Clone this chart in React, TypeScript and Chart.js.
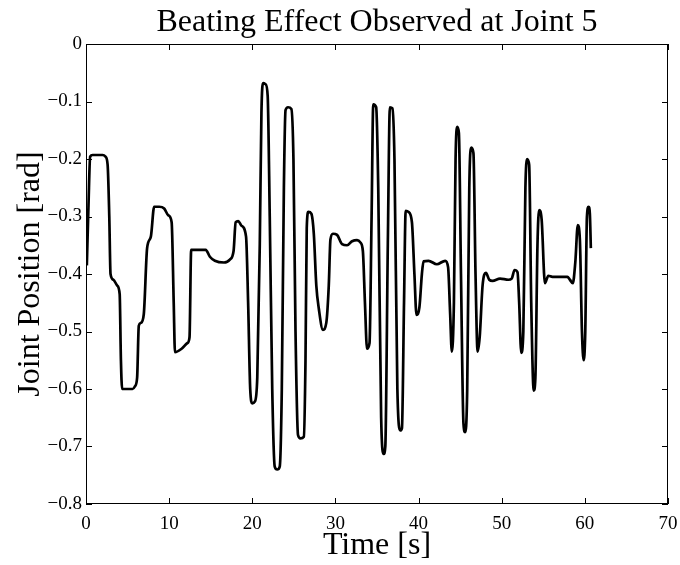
import React, { useEffect, useRef } from 'react';
import { Chart, registerables } from 'chart.js';

Chart.register(...registerables);

const titleText = 'Beating Effect Observed at Joint 5';
const xLabel = 'Time [s]';
const yLabel = 'Joint Position [rad]';

const xTickValues = [0, 10, 20, 30, 40, 50, 60, 70];
const yTickValues = [0, -0.1, -0.2, -0.3, -0.4, -0.5, -0.6, -0.7, -0.8];

const timeS = [
  0.1, 0.3, 0.5, 0.8, 2.0, 2.35, 2.6, 2.8, 2.95, 3.3,
  3.75, 4.05, 4.2, 4.35, 5.6, 5.9, 6.15, 6.35, 6.6, 6.95,
  7.35, 7.8, 8.2, 8.8, 9.4, 9.9, 10.3, 10.55, 10.7, 11.5,
  12.2, 12.45, 12.65, 14.4, 14.9, 15.5, 16.6, 17.3, 17.75, 18.0,
  18.3, 18.7, 19.25,
  19.5, 19.75, 20.0, 20.3, 20.6, 20.9, 21.1, 21.3, 21.6, 21.85,
  22.1, 22.4, 22.7, 23.0, 23.3, 23.55, 23.8, 24.0, 24.3, 24.7,
  24.95, 25.2, 25.5, 25.8, 26.2, 26.4, 26.55, 26.75, 27.1, 27.4,
  27.7, 28.0, 28.5, 28.9, 29.2, 29.4, 29.7, 30.2, 30.8, 31.4,
  32.0, 32.6, 33.0, 33.3, 33.55, 33.8, 34.1, 34.35, 34.55, 34.9,
  35.15, 35.5, 35.8, 36.0, 36.3, 36.55, 36.85, 37.1, 37.45, 37.8,
  38.0, 38.25, 38.45, 38.8, 39.2, 39.5, 39.75, 40.1, 40.4, 40.6,
  41.2, 42.2, 43.2, 43.55, 43.8, 44.0, 44.25, 44.45, 44.65, 44.85,
  45.1, 45.4, 45.6, 45.85, 46.1, 46.35, 46.6, 46.85, 47.1, 47.35,
  47.7, 48.1, 48.5, 48.9, 49.8, 50.8, 51.2, 51.55, 51.9, 52.1,
  52.35, 52.6, 52.85, 53.05, 53.3, 53.55, 53.85, 54.05, 54.3, 54.5,
  54.8, 55.2, 55.6, 56.1, 57.4, 57.9, 58.2, 58.55, 58.85, 59.15,
  59.4, 59.65, 59.85, 60.05, 60.25, 60.45, 60.6, 60.72,
];

const jointPos = [
  -0.385, -0.28, -0.196, -0.193, -0.193, -0.196, -0.21, -0.3, -0.4, -0.41,
  -0.42, -0.435, -0.55, -0.6, -0.6, -0.595, -0.58, -0.49, -0.485, -0.47,
  -0.355, -0.335, -0.283, -0.283, -0.286, -0.298, -0.31, -0.45, -0.536, -0.53,
  -0.52, -0.51, -0.358, -0.358, -0.37, -0.377, -0.38, -0.375, -0.36, -0.31,
  -0.308, -0.316, -0.335,
  -0.45, -0.6, -0.625, -0.622, -0.58, -0.35, -0.12, -0.068, -0.07, -0.09,
  -0.3, -0.6, -0.735, -0.74, -0.735, -0.6, -0.25, -0.115, -0.11, -0.113,
  -0.2, -0.5, -0.68, -0.686, -0.683, -0.55, -0.32, -0.292, -0.295, -0.33,
  -0.42, -0.46, -0.497, -0.485, -0.42, -0.34, -0.33, -0.332, -0.348, -0.35,
  -0.343, -0.341, -0.345, -0.36, -0.45, -0.53, -0.52, -0.3, -0.105, -0.11,
  -0.25, -0.65, -0.713, -0.7, -0.35, -0.11, -0.112, -0.2, -0.6, -0.672,
  -0.668, -0.45, -0.29, -0.292, -0.31, -0.4, -0.471, -0.458, -0.4, -0.378,
  -0.377, -0.383, -0.377, -0.388, -0.47, -0.535, -0.45, -0.2, -0.144, -0.155,
  -0.4, -0.66, -0.675, -0.6, -0.25, -0.18, -0.19, -0.4, -0.535, -0.51,
  -0.42, -0.398, -0.41, -0.412, -0.408, -0.41, -0.408, -0.393, -0.397, -0.45,
  -0.537, -0.5, -0.25, -0.2, -0.21, -0.45, -0.603, -0.58, -0.35, -0.289,
  -0.305, -0.416, -0.403, -0.405, -0.405, -0.405, -0.41, -0.416, -0.38, -0.315,
  -0.34, -0.5, -0.55, -0.5, -0.3, -0.283, -0.295, -0.355,
];

const SERIF = "'Liberation Serif', 'Times New Roman', serif";

const frameAndTitle = {
  id: 'frameAndTitle',
  afterDraw(chart: any) {
    const { ctx, chartArea: a, scales } = chart;
    ctx.save();
    ctx.strokeStyle = '#000';
    ctx.lineWidth = 1;
    ctx.strokeRect(a.left + 0.5, a.top + 0.5, a.right - a.left - 1, a.bottom - a.top - 1);
    const L = 6;
    ctx.beginPath();
    scales.x.ticks.forEach((t: any) => {
      const px = Math.round(scales.x.getPixelForValue(t.value)) + 0.5;
      ctx.moveTo(px, a.bottom);
      ctx.lineTo(px, a.bottom - L);
      ctx.moveTo(px, a.top);
      ctx.lineTo(px, a.top + L);
    });
    scales.y.ticks.forEach((t: any) => {
      const py = Math.round(scales.y.getPixelForValue(t.value)) + 0.5;
      ctx.moveTo(a.left, py);
      ctx.lineTo(a.left + L, py);
      ctx.moveTo(a.right, py);
      ctx.lineTo(a.right - L, py);
    });
    ctx.stroke();
    ctx.fillStyle = '#000';
    ctx.font = `32px ${SERIF}`;
    ctx.textAlign = 'center';
    ctx.textBaseline = 'alphabetic';
    ctx.fillText(titleText, (a.left + a.right) / 2, 31);
    ctx.restore();
  },
};

export default function App() {
  const ref = useRef<HTMLCanvasElement | null>(null);
  useEffect(() => {
    if (!ref.current) return;
    const points = timeS.map((t, i) => ({ x: t, y: jointPos[i] }));
    const chart = new Chart(ref.current, {
      type: 'line',
      data: {
        datasets: [
          {
            data: points,
            borderColor: '#000',
            borderWidth: 2.7,
            pointRadius: 0,
            fill: false,
            cubicInterpolationMode: 'monotone',
          },
        ],
      },
      options: {
        animation: false,
        responsive: false,
        events: [],
        layout: { padding: { top: 44, right: 12, left: 0, bottom: 0 } },
        plugins: { legend: { display: false }, tooltip: { enabled: false }, title: { display: false } },
        scales: {
          x: {
            type: 'linear',
            min: 0,
            max: 70,
            afterBuildTicks: (s: any) => {
              s.ticks = xTickValues.map((v) => ({ value: v }));
            },
            afterFit: (s: any) => {
              s.height = 61;
              s.paddingLeft = 0;
              s.paddingRight = 0;
            },
            grid: { display: false, drawTicks: false },
            border: { display: false },
            ticks: {
              color: '#000',
              font: { family: SERIF, size: 19 },
              padding: 9,
              maxRotation: 0,
              autoSkip: false,
              callback: (v: any) => String(v),
            },
            title: {
              display: true,
              text: xLabel,
              color: '#000',
              font: { family: SERIF, size: 32 },
              padding: { top: 0, bottom: 0 },
            },
          },
          y: {
            type: 'linear',
            min: -0.8,
            max: 0,
            afterBuildTicks: (s: any) => {
              s.ticks = yTickValues.map((v) => ({ value: v }));
            },
            afterFit: (s: any) => {
              s.width = 86;
              s.paddingTop = 0;
              s.paddingBottom = 0;
            },
            grid: { display: false, drawTicks: false },
            border: { display: false },
            ticks: {
              color: '#000',
              font: { family: SERIF, size: 19 },
              padding: 4,
              autoSkip: false,
              callback: (v: any) => (Math.abs(v) < 1e-9 ? '0' : '\u2212' + Math.abs(v).toFixed(1)),
            },
            title: {
              display: true,
              text: yLabel,
              color: '#000',
              font: { family: SERIF, size: 32 },
              padding: { top: 11, bottom: 0 },
            },
          },
        },
      },
      plugins: [frameAndTitle],
    } as any);
    return () => chart.destroy();
  }, []);
  return (
    <div style={{ position: 'absolute', left: 0, top: 0, width: 680, height: 565, background: '#fff' }}>
      <canvas ref={ref} width={680} height={565} />
    </div>
  );
}
